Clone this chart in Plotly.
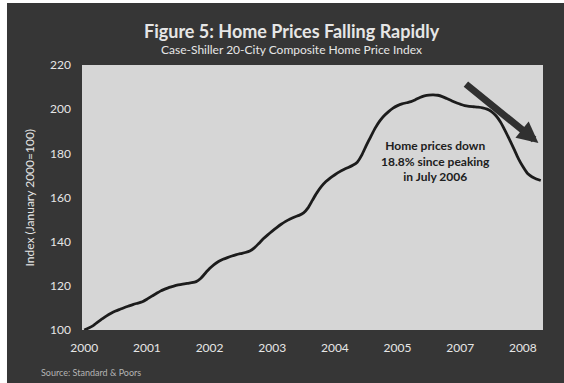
import pandas as pd
import plotly.graph_objects as go

# Monthly S&P/Case-Shiller 20-City Composite (NSA), Jan 2000 = 100
months = [d.strftime("%b %Y") for d in pd.date_range("2000-01-01", "2008-07-01", freq="MS")]
index_values = [
    # 2000
    100.0, 100.9, 102.0, 103.6, 105.0, 106.4, 107.6, 108.6, 109.4, 110.2, 110.9, 111.6,
    # 2001
    112.2, 112.8, 113.9, 115.2, 116.4, 117.6, 118.5, 119.3, 119.9, 120.4, 120.8, 121.1,
    # 2002
    121.4, 121.9, 123.3, 125.6, 127.8, 129.6, 131.0, 132.0, 132.8, 133.5, 134.1, 134.6,
    # 2003
    135.1, 135.8, 137.2, 139.2, 141.3, 143.1, 144.8, 146.4, 147.9, 149.2, 150.3, 151.2,
    # 2004
    151.9, 153.0, 155.3, 158.8, 162.2, 165.0, 167.2, 168.9, 170.3, 171.6, 172.7, 173.6,
    # 2005
    174.6, 176.0, 179.2, 183.5, 187.5, 191.4, 194.6, 197.0, 198.9, 200.5, 201.6, 202.4,
    # 2006
    202.9, 203.4, 204.3, 205.3, 206.0, 206.4, 206.5, 206.3, 205.7, 204.8, 203.9, 203.0,
    # 2007
    202.3, 201.6, 201.3, 201.1, 200.9, 200.6, 200.0, 198.9, 197.0, 194.2, 190.4, 186.3,
    # 2008
    182.0, 177.6, 174.0, 171.0, 169.4, 168.4, 167.7,
]
# Category labels shown every 14 months, year only
tick_step = 14
tick_labels = ["2000", "2001", "2002", "2003", "2004", "2005", "2007", "2008"]
y_ticks = [100, 120, 140, 160, 180, 200, 220]

peak = max(index_values)
peak_month = months[index_values.index(peak)]
decline = 1 - index_values[-1] / peak

BG = "#363636"
PLOT_BG = "#d6d6d6"
LIGHT = "#e6e6e6"
FONT = "Lato"

fig = go.Figure()
fig.add_trace(go.Scatter(
    x=months, y=index_values, mode="lines",
    line=dict(color="#1c1c1c", width=2.8, shape="spline", smoothing=0.6),
    hoverinfo="x+y", showlegend=False,
))

fig.update_layout(
    width=564, height=383,
    margin=dict(l=82, r=21, t=65, b=53, pad=0),
    paper_bgcolor=BG, plot_bgcolor=PLOT_BG,
    font=dict(family=FONT, color=LIGHT, size=12),
    xaxis=dict(
        type="category", range=[-0.5, len(months) - 0.5],
        tickmode="array", tickvals=months[::tick_step], ticktext=tick_labels,
        showgrid=False, zeroline=False, showline=False, ticks="",
        ticklabelstandoff=9, tickfont=dict(size=12, color=LIGHT, family=FONT),
    ),
    yaxis=dict(
        range=[100, 220], tickmode="array", tickvals=y_ticks,
        showgrid=False, zeroline=False, showline=False, ticks="",
        ticklabelstandoff=10, tickfont=dict(size=12, color=LIGHT, family=FONT),
    ),
)

center = dict(xref="paper", yref="paper", xanchor="center", yanchor="middle", showarrow=False)
annotations = [
    dict(center, text="<b>Figure 5: Home Prices Falling Rapidly</b>", x=0.4555, y=1.128,
         font=dict(size=18, color=LIGHT, family=FONT)),
    dict(center, text="Case-Shiller 20-City Composite Home Price Index", x=0.4555, y=1.058,
         font=dict(size=12, color=LIGHT, family=FONT)),
    dict(center, text="Index (January 2000=100)", x=-0.1128, y=0.5, textangle=-90,
         font=dict(size=12, color=LIGHT, family=FONT)),
    dict(center, text="Source: Standard & Poors", x=-0.0933, y=-0.162, xanchor="left",
         font=dict(size=9, color="#b4b4b4", family=FONT)),
    dict(center,
         text=f"<b>Home prices down<br>{decline:.1%} since peaking<br>in {pd.Timestamp(peak_month).strftime('%B %Y')}</b>",
         x=0.766, y=0.638, align="center", font=dict(size=12, color="#202020", family=FONT)),
    # Downward arrow over the recent decline
    dict(text="", xref="paper", yref="paper", x=0.99, y=0.706, ax=-74, ay=-60,
         showarrow=True, arrowhead=2, arrowsize=0.6, arrowwidth=7, arrowcolor="#303030"),
]
fig.update_layout(annotations=annotations)

# Thin white frame along the left and top edges of the page
fig.add_shape(type="rect", xref="paper", yref="paper", x0=-0.178, x1=-0.1627, y0=-0.21, y1=1.25,
              fillcolor="white", line_width=0, layer="above")
fig.add_shape(type="rect", xref="paper", yref="paper", x0=-0.178, x1=1.1, y0=1.234, y1=1.25,
              fillcolor="white", line_width=0, layer="above")

fig.write_html("out.html")
